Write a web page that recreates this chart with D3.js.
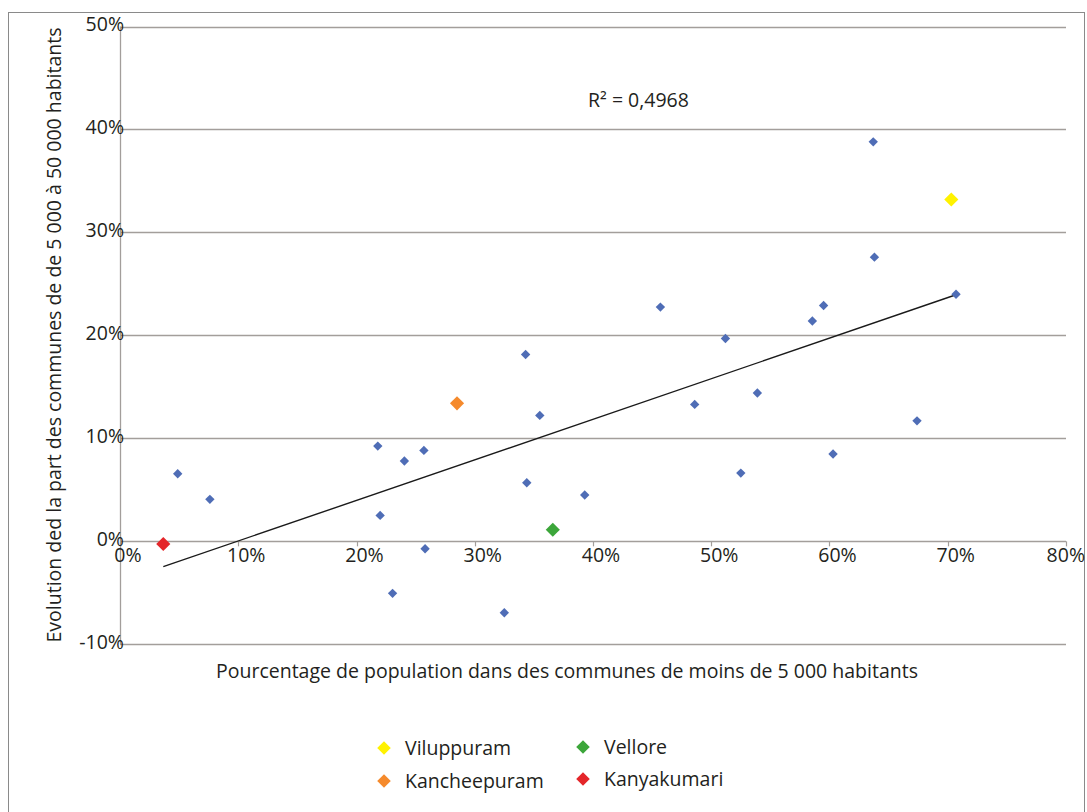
<!DOCTYPE html>
<html>
<head>
<meta charset="utf-8">
<script src="https://cdn.jsdelivr.net/npm/d3@7"></script>
<style>
  html, body { margin: 0; padding: 0; background: #fff; }
  svg { display: block; }
  text { font-family: "Open Sans", "Noto Sans", sans-serif; fill: #231f20; }
</style>
</head>
<body>
<svg id="chart" width="1087" height="812"></svg>
<script>
// ---- data (fractions) ----
const otherX = [0.0488, 0.076, 0.218, 0.220, 0.2305, 0.2405, 0.257, 0.258, 0.325, 0.343, 0.344, 0.355, 0.393,
                0.457, 0.486, 0.512, 0.525, 0.539, 0.5855, 0.595, 0.603, 0.637, 0.638, 0.674, 0.707];
const otherY = [0.0656, 0.0408, 0.0925, 0.0252, -0.0505, 0.078, 0.0883, -0.0072, -0.0693, 0.1815, 0.0569, 0.1223, 0.045,
                0.2275, 0.133, 0.197, 0.0663, 0.144, 0.214, 0.229, 0.0848, 0.388, 0.276, 0.117, 0.240];
const districts = ["Viluppuram", "Kancheepuram", "Vellore", "Kanyakumari"];
const districtX = [0.703, 0.285, 0.366, 0.0366];
const districtY = [0.332, 0.134, 0.0113, -0.0026];
const districtColors = ["#fff200", "#f58a2c", "#3ca63a", "#e4262a"];
const xTicks = [0, 0.1, 0.2, 0.3, 0.4, 0.5, 0.6, 0.7, 0.8];
const yTicks = [-0.1, 0, 0.1, 0.2, 0.3, 0.4, 0.5];
const r2Label = "R² = 0,4968";
const xTitle = "Pourcentage de population dans des communes de moins de 5 000 habitants";
const yTitle = "Evolution ded la part des communes de de 5 000 à 50 000 habitants";

const FS = 19.5;
const svg = d3.select("#chart");
const x = d3.scaleLinear().domain([0, 0.8]).range([120, 1066]);
const y = d3.scaleLinear().domain([-0.1, 0.5]).range([644.3, 26.5]);
const pct = v => d3.format(".0%")(v).replace("\u2212", "-");

// outer frame
svg.append("rect").attr("x", 8.5).attr("y", 12.5).attr("width", 1076).attr("height", 820)
  .attr("fill", "none").attr("stroke", "#8a8a8a").attr("stroke-width", 1);

// gridlines
svg.append("g").selectAll("line").data(yTicks).join("line")
  .attr("x1", x(0)).attr("x2", x(0.8))
  .attr("y1", d => Math.round(y(d)) + 0.5).attr("y2", d => Math.round(y(d)) + 0.5)
  .attr("stroke", "#a39e9b").attr("stroke-width", 1.3);

// y axis line
svg.append("line").attr("x1", x(0) + 0.5).attr("x2", x(0) + 0.5)
  .attr("y1", y(0.5)).attr("y2", y(-0.1))
  .attr("stroke", "#a39e9b").attr("stroke-width", 1.3);

// x axis ticks on the 0 line
svg.append("g").selectAll("line").data(xTicks).join("line")
  .attr("x1", d => Math.round(x(d)) + 0.5).attr("x2", d => Math.round(x(d)) + 0.5)
  .attr("y1", y(0)).attr("y2", y(0) + 5)
  .attr("stroke", "#a39e9b").attr("stroke-width", 1.2);

// y tick labels
svg.append("g").selectAll("text").data(yTicks).join("text")
  .attr("x", x(0) + 4).attr("y", d => y(d) - 1)
  .attr("text-anchor", "end").attr("dominant-baseline", "middle")
  .attr("font-size", FS).text(pct);

// x tick labels
const lastTick = xTicks[xTicks.length - 1];
svg.append("g").selectAll("text").data(xTicks).join("text")
  .attr("x", d => d === lastTick ? 1085 : x(d) + 8).attr("y", y(0) + 21)
  .attr("text-anchor", d => d === lastTick ? "end" : "middle")
  .attr("font-size", FS).text(pct);

// trend line (least squares on all points)
const allX = otherX.concat(districtX), allY = otherY.concat(districtY);
const n = allX.length;
const mx = d3.mean(allX), my = d3.mean(allY);
let sxy = 0, sxx = 0;
for (let i = 0; i < n; i++) { sxy += (allX[i] - mx) * (allY[i] - my); sxx += (allX[i] - mx) ** 2; }
const slope = sxy / sxx, icpt = my - slope * mx;
const [xmin, xmax] = d3.extent(allX);
svg.append("line")
  .attr("x1", x(xmin)).attr("y1", y(icpt + slope * xmin))
  .attr("x2", x(xmax)).attr("y2", y(icpt + slope * xmax))
  .attr("stroke", "#1a1a1a").attr("stroke-width", 1.4);

// diamonds
const diamond = (s) => d3.symbol().type(d3.symbolSquare).size(s)();
svg.append("g").selectAll("path").data(otherX.map((v, i) => [v, otherY[i]])).join("path")
  .attr("d", diamond(44))
  .attr("transform", d => `translate(${x(d[0])},${y(d[1])}) rotate(45)`)
  .attr("fill", "#4f6db6");
svg.append("g").selectAll("path").data(districtX.map((v, i) => [v, districtY[i], districtColors[i]])).join("path")
  .attr("d", diamond(100))
  .attr("transform", d => `translate(${x(d[0])},${y(d[1])}) rotate(45)`)
  .attr("fill", d => d[2]);

// R² label
svg.append("text").attr("x", 588).attr("y", 107).attr("font-size", FS).text(r2Label);

// axis titles
svg.append("text").attr("x", 567).attr("y", 678).attr("text-anchor", "middle")
  .attr("font-size", FS).text(xTitle);
svg.append("text").attr("transform", "translate(61,335) rotate(-90)").attr("text-anchor", "middle")
  .attr("font-size", FS).text(yTitle);

// legend
const legPos = [[384, 748], [384, 781], [583, 747], [583, 779]];
const leg = svg.append("g").selectAll("g").data(districts).join("g")
  .attr("transform", (d, i) => `translate(${legPos[i][0]},${legPos[i][1]})`);
leg.append("path").attr("d", diamond(92)).attr("transform", "rotate(45)")
  .attr("fill", (d, i) => districtColors[i]);
leg.append("text").attr("x", 21).attr("y", 7).attr("font-size", FS).text(d => d);
</script>
</body>
</html>
